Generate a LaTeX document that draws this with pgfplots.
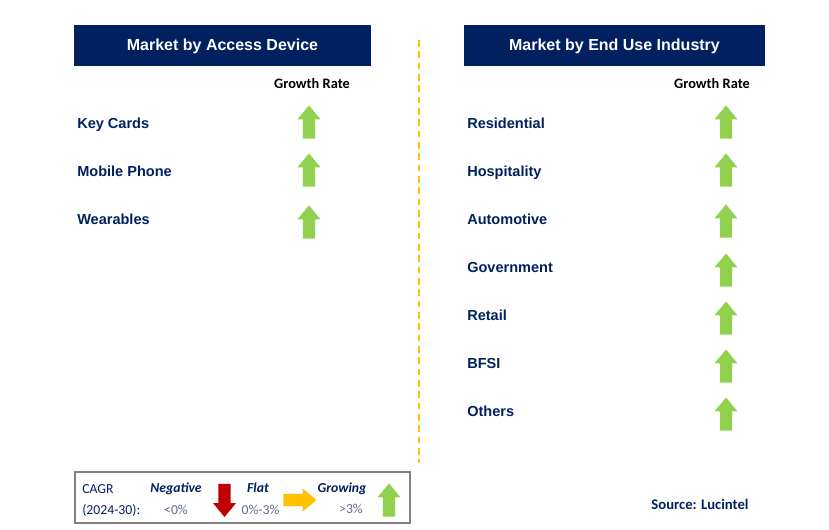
\documentclass[border=0pt]{standalone}
\usepackage{pgfplots}
\pgfplotsset{compat=1.18}
\usepackage{fontspec}
\setmainfont{Liberation Sans}
\newfontfamily\calibri{Carlito}

\definecolor{navy}{HTML}{002060}
\definecolor{grn}{HTML}{92D050}
\definecolor{rd}{HTML}{C00000}
\definecolor{org}{HTML}{FFC000}
\definecolor{lgray}{HTML}{5F6B94}

% block arrow pointing up, about 23px wide and 33px tall
\pgfdeclareplotmark{uparr}{%
  \pgfpathmoveto{\pgfpoint{-4.6pt}{-12.4pt}}%
  \pgfpathlineto{\pgfpoint{4.6pt}{-12.4pt}}%
  \pgfpathlineto{\pgfpoint{4.6pt}{2pt}}%
  \pgfpathlineto{\pgfpoint{8.6pt}{2pt}}%
  \pgfpathlineto{\pgfpoint{0pt}{12.4pt}}%
  \pgfpathlineto{\pgfpoint{-8.6pt}{2pt}}%
  \pgfpathlineto{\pgfpoint{-4.6pt}{2pt}}%
  \pgfpathclose
  \pgfusepathqfill}

\pgfplotstableread{
x y
309 122
309 170
309 222
726 122
726 170
726 221
726 270
726 318
726 366
726 414
389 500
}\growing

\begin{document}
\begin{tikzpicture}[
    lbl/.style={anchor=base west, inner sep=0pt, text=navy, font=\bfseries\fontsize{10.9}{13}\selectfont},
    hdr/.style={anchor=base, text=white, font=\bfseries\fontsize{12}{14}\selectfont},
    gr/.style={anchor=base, font=\calibri\bfseries\fontsize{10.8}{13}\selectfont},
    lg/.style={anchor=base, inner sep=0pt, font=\calibri\fontsize{10.3}{12}\selectfont},
    lgb/.style={anchor=base, inner sep=0pt, text=navy, font=\calibri\bfseries\itshape\fontsize{10.3}{12}\selectfont},
]
\begin{axis}[
    width=621.75pt, height=397.5pt, scale only axis,
    xmin=0, xmax=829, ymin=0, ymax=530,
    y dir=reverse, hide axis, clip=false,
]
\path (axis cs:0,0) rectangle (axis cs:829,530);

% headers
\fill[navy] (axis cs:74,25) rectangle (axis cs:371,66);
\node[hdr] at (axis cs:222.5,51) {Market by Access Device};
\fill[navy] (axis cs:464,25) rectangle (axis cs:765,66);
\node[hdr] at (axis cs:614.5,51) {Market by End Use Industry};

\node[gr] at (axis cs:312,89) {Growth Rate};
\node[gr] at (axis cs:712,89) {Growth Rate};

% row labels
\node[lbl] at (axis cs:77,129) {Key Cards};
\node[lbl] at (axis cs:77,177) {Mobile Phone};
\node[lbl] at (axis cs:77,225) {Wearables};
\node[lbl] at (axis cs:467,129) {Residential};
\node[lbl] at (axis cs:467,177) {Hospitality};
\node[lbl] at (axis cs:467,225) {Automotive};
\node[lbl] at (axis cs:467,273) {Government};
\node[lbl] at (axis cs:467,321) {Retail};
\node[lbl] at (axis cs:467,369) {BFSI};
\node[lbl] at (axis cs:467,417) {Others};

% divider
\draw[org, line width=1.2pt, dash pattern=on 5pt off 3.5pt] (axis cs:419,40) -- (axis cs:419,463);

% arrows
\addplot[only marks, mark=uparr, color=grn, fill=grn] table {\growing};
\addplot[only marks, mark=uparr, mark options={rotate=180}, color=rd, fill=rd] coordinates {(224.5,500.5)};
\addplot[only marks, mark=uparr, mark options={rotate=-90}, color=org, fill=org] coordinates {(300,500)};

% legend box
\draw[color=black!50, line width=0.8pt] (axis cs:75,472) rectangle (axis cs:410,523);
\node[lg, anchor=base west, text=navy] at (axis cs:82,494) {CAGR};
\node[lg, anchor=base west, text=navy] at (axis cs:82,515) {(2024-30):};
\node[lgb] at (axis cs:176,493) {Negative};
\node[lg, text=lgray] at (axis cs:176,515) {<0\%};
\node[lgb] at (axis cs:258,493) {Flat};
\node[lg, text=lgray] at (axis cs:260.5,515) {0\%-3\%};
\node[lgb] at (axis cs:342,493) {Growing};
\node[lg, text=lgray] at (axis cs:351,514) {>3\%};

\node[anchor=base, text=navy, font=\calibri\bfseries\fontsize{11}{13}\selectfont] at (axis cs:700,510) {Source: Lucintel};
\end{axis}
\end{tikzpicture}
\end{document}
